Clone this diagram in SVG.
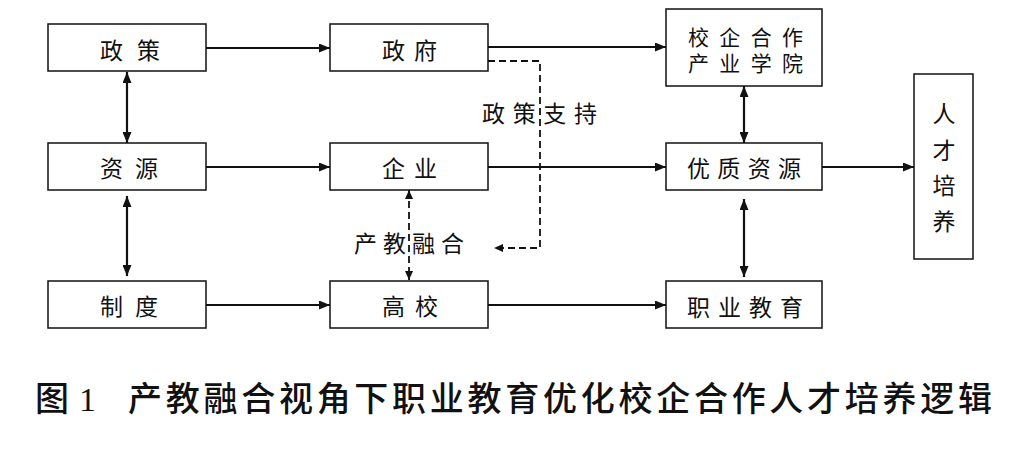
<svg xmlns="http://www.w3.org/2000/svg" width="1024" height="452" viewBox="0 0 1024 452">
<style>
.box{fill:#fff;stroke:#111;stroke-width:1.5}
.t{font-family:"Noto Sans CJK SC","Noto Sans",sans-serif;font-size:23px;fill:#111}
.t2{font-family:"Noto Sans CJK SC","Noto Sans",sans-serif;font-size:21px;fill:#111}
.ln{fill:none;stroke:#111;stroke-width:2.2}
.dl{fill:none;stroke:#111;stroke-width:1.8;stroke-dasharray:7 4}
.cap{font-family:"Noto Sans CJK SC","Noto Sans",sans-serif;font-size:34px;font-weight:500;fill:#111}
</style>
<defs>
<marker id="ah" markerUnits="userSpaceOnUse" markerWidth="11" markerHeight="9" viewBox="0 0 11 9" refX="11" refY="4.5" orient="auto-start-reverse">
<path d="M0,0 L11,4.5 L0,9 z" fill="#111"/>
</marker>
<marker id="ahs" markerUnits="userSpaceOnUse" markerWidth="9" markerHeight="8" viewBox="0 0 9 8" refX="9" refY="4" orient="auto-start-reverse">
<path d="M0,0 L9,4 L0,8 z" fill="#111"/>
</marker>
</defs>
<rect width="1024" height="452" fill="#fff"/>
<g id="connectors">
<line class="ln" x1="206" y1="48" x2="330" y2="48" marker-end="url(#ah)"/>
<line class="ln" x1="488" y1="47" x2="666" y2="47" marker-end="url(#ah)"/>
<line class="ln" x1="206" y1="167" x2="330" y2="167" marker-end="url(#ah)"/>
<line class="ln" x1="488" y1="167" x2="666" y2="167" marker-end="url(#ah)"/>
<line class="ln" x1="822" y1="167" x2="914" y2="167" marker-end="url(#ah)"/>
<line class="ln" x1="206" y1="305" x2="330" y2="305" marker-end="url(#ah)"/>
<line class="ln" x1="488" y1="305" x2="666" y2="305" marker-end="url(#ah)"/>
<line class="ln" x1="127" y1="72" x2="127" y2="143" marker-start="url(#ah)" marker-end="url(#ah)"/>
<line class="ln" x1="127" y1="196" x2="127" y2="276" marker-start="url(#ah)" marker-end="url(#ah)"/>
<line class="ln" x1="744" y1="86" x2="744" y2="143" marker-start="url(#ah)" marker-end="url(#ah)"/>
<line class="ln" x1="744" y1="199" x2="744" y2="277" marker-start="url(#ah)" marker-end="url(#ah)"/>
<line class="dl" x1="409" y1="190" x2="409" y2="280" marker-start="url(#ahs)" marker-end="url(#ahs)"/>
<polyline class="dl" points="488,61 540,61 540,248 494,248" marker-end="url(#ahs)"/>
<text class="t" x="482" y="122" textLength="115" lengthAdjust="spacing">政策支持</text>
<text class="t" x="354" y="252" textLength="110" lengthAdjust="spacing">产教融合</text>
</g>
<g id="n-zhengce"><rect class="box" x="48" y="24" width="158" height="47"/><text class="t" x="100" y="59" textLength="60" lengthAdjust="spacing">政策</text></g>
<g id="n-zhengfu"><rect class="box" x="330" y="24" width="158" height="47"/><text class="t" x="382" y="59" textLength="55" lengthAdjust="spacing">政府</text></g>
<g id="n-ziyuan"><rect class="box" x="48" y="143" width="158" height="47"/><text class="t" x="100" y="177" textLength="58" lengthAdjust="spacing">资源</text></g>
<g id="n-qiye"><rect class="box" x="330" y="143" width="158" height="47"/><text class="t" x="382" y="177" textLength="55" lengthAdjust="spacing">企业</text></g>
<g id="n-zhidu"><rect class="box" x="48" y="281" width="158" height="47"/><text class="t" x="100" y="315" textLength="58" lengthAdjust="spacing">制度</text></g>
<g id="n-gaoxiao"><rect class="box" x="330" y="281" width="158" height="47"/><text class="t" x="382" y="315" textLength="56" lengthAdjust="spacing">高校</text></g>
<g id="n-xiaoqi"><rect class="box" x="666" y="9" width="156" height="77"/><text class="t2" x="688" y="45" textLength="115" lengthAdjust="spacing">校企合作</text><text class="t2" x="688" y="71" textLength="115" lengthAdjust="spacing">产业学院</text></g>
<g id="n-youzhi"><rect class="box" x="666" y="143" width="156" height="47"/><text class="t" x="687" y="177" textLength="114" lengthAdjust="spacing">优质资源</text></g>
<g id="n-zhiye"><rect class="box" x="666" y="281" width="156" height="47"/><text class="t" x="687" y="316" textLength="116" lengthAdjust="spacing">职业教育</text></g>
<g id="n-rencai"><rect class="box" x="914" y="74" width="59" height="185"/>
<text class="t" text-anchor="middle"><tspan x="944" y="122">人</tspan><tspan x="944" y="159">才</tspan><tspan x="944" y="194">培</tspan><tspan x="944" y="230">养</tspan></text></g>
<text class="cap" y="411"><tspan x="35">图</tspan><tspan x="79" font-family="Liberation Serif, serif" font-weight="normal" font-size="34">1</tspan><tspan x="128" textLength="864" lengthAdjust="spacing">产教融合视角下职业教育优化校企合作人才培养逻辑</tspan></text>
</svg>
